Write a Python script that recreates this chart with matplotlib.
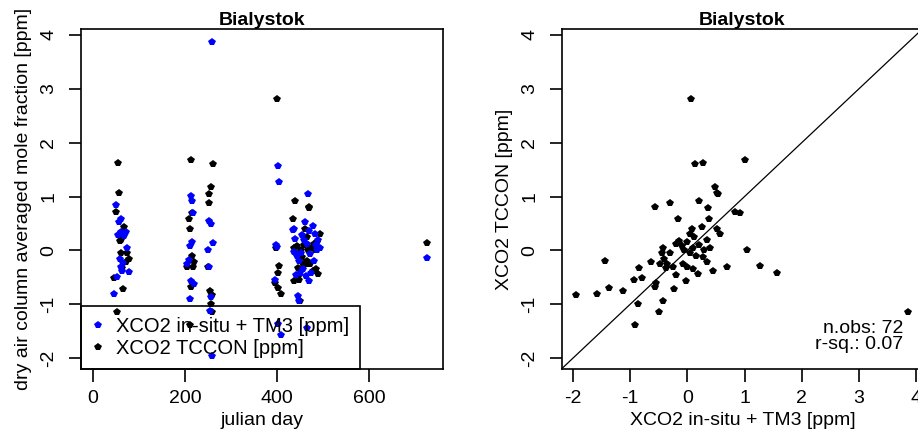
import numpy as np
import matplotlib
matplotlib.use("Agg")
import matplotlib.pyplot as plt

plt.rcParams['font.family'] = ['Liberation Sans', 'DejaVu Sans']
plt.rcParams['axes.unicode_minus'] = False

# one row per observation: julian day, XCO2 in-situ + TM3, XCO2 TCCON (ppm anomalies)
day = [45, 52, 66, 55, 57, 50, 68, 62, 72, 78, 60, 64, 58, 74, 61,
       211, 214, 208, 213, 215, 210, 218, 205, 216, 220,
       258, 255, 257, 252, 262, 256, 253, 259, 250,
       408, 402, 400, 405, 403, 398, 396,
       726,
       466, 445, 448, 450, 470, 440, 470, 435, 460, 468, 455, 478, 485, 490,
       438, 472, 442, 457, 463, 475, 480, 444, 452, 488, 458, 483, 465, 447,
       493, 437]
insitu = [-0.80, -0.49, -0.24, 0.28, 0.52, 0.84, 0.26, 0.58, 0.35, -0.40, -0.30, -0.38, -0.15, 0.05, 0.35,
          -0.91, -0.56, -0.17, 1.01, 0.92, 0.09, 0.70, -0.25, 0.15, -0.63,
          -1.95, -1.13, -0.87, -0.31, 0.14, 0.49, 0.54, 3.86, 0.00,
          -1.57, -1.36, 0.07, 1.27, 1.57, 0.10, -0.55,
          -0.14,
          -1.43, -0.84, -0.94, -0.42, -0.56, 0.21, 0.37, 0.38, 0.52, 1.05, 0.28, 0.45, 0.10, 0.19,
          -0.03, -0.07, -0.45, -0.35, -0.48, -0.42, -0.20, -0.10, -0.05, 0.00, 0.20, 0.30, 0.12, -0.20,
          0.05, 0.40]
tccon = [-0.52, -1.14, -0.72, 1.63, 1.07, 0.72, 0.43, 0.30, -0.22, -0.15, -0.05, -0.32, 0.18, -0.05, 0.20,
         -1.39, -0.67, 0.59, 1.67, 0.70, 0.39, -0.30, -0.30, -0.10, -0.22,
         -0.82, -0.76, -1.00, 0.89, 1.61, 1.17, 1.04, -1.15, -0.30,
         -0.80, -0.69, 2.81, -0.28, -0.41, 0.05, -0.60,
         0.14,
         -0.20, -0.33, -0.55, -0.94, 0.80, 0.91, 0.78, 0.59, 0.39, 0.00, -0.13, -0.39, -0.35, -0.44,
         -0.57, -0.26, -0.05, -0.25, -0.25, 0.05, 0.12, 0.08, 0.00, 0.15, 0.10, 0.00, 0.25, -0.45,
         0.30, 0.05]

site = "Bialystok"
n_obs = 72
r_sq = 0.07

day = np.array(day)
insitu = np.array(insitu)
tccon = np.array(tccon)

fig = plt.figure(figsize=(9.18, 4.37), dpi=100)
ax1 = fig.add_axes([81/918, 68/437, 362/918, 340/437])
ax2 = fig.add_axes([562/918, 68/437, 361/918, 340/437])

blue = (0, 0, 1)
ms = 6
fs = 14

# time series
ax1.plot(day, tccon, 'p', color='black', ms=ms, mew=0)
ax1.plot(day, insitu, 'p', color=blue, ms=ms, mew=0)
ax1.set_xlim(-26, 761)
ax1.set_ylim(-2.2, 4.11)
ax1.set_xticks([0, 200, 400, 600])
ax1.set_xlabel("julian day", fontsize=fs, labelpad=4)
ax1.set_ylabel("dry air column averaged mole fraction [ppm]", fontsize=fs, labelpad=6)
leg_h = [plt.Line2D([], [], ls='none', marker='p', color=blue, ms=ms, mew=0),
         plt.Line2D([], [], ls='none', marker='p', color='black', ms=ms, mew=0)]
leg = ax1.legend(leg_h, ["XCO2 in-situ + TM3 [ppm]", "XCO2 TCCON [ppm]"],
                 loc='lower left', bbox_to_anchor=(0, 0), fontsize=14.5,
                 frameon=True, fancybox=False, framealpha=1, facecolor='none',
                 edgecolor='black', borderaxespad=0, handlelength=0.6,
                 handletextpad=0.6, labelspacing=0.14, borderpad=0.55)
leg.get_frame().set_linewidth(1.2)

# scatter
lims = (-2.19, 4.12)
ax2.plot(lims, lims, color='black', lw=0.9)
ax2.plot(insitu, tccon, 'p', color='black', ms=ms, mew=0)
ax2.set_xlim(*lims)
ax2.set_ylim(-2.2, 4.11)
ax2.set_xticks(range(-2, 5))
ax2.set_xlabel("XCO2 in-situ + TM3 [ppm]", fontsize=fs, labelpad=4)
ax2.set_ylabel("XCO2 TCCON [ppm]", fontsize=fs, labelpad=6)
ax2.text(3.77, -1.44, f"n.obs: {n_obs}", ha='right', va='center', fontsize=fs)
ax2.text(3.77, -1.74, f"r-sq.: {r_sq:.2f}", ha='right', va='center', fontsize=fs)

for ax in (ax1, ax2):
    ax.set_title(site, fontsize=14, fontweight='bold', pad=1)
    ax.set_yticks(range(-2, 5))
    ax.tick_params(length=9, width=1.2, labelsize=fs, pad=6)
    ax.tick_params(axis='y', pad=8)
    for lab in ax.get_yticklabels():
        lab.set_rotation(90)
        lab.set_va('center')
    for sp in ax.spines.values():
        sp.set_linewidth(1.2)

fig.savefig("out.png", dpi=100)
